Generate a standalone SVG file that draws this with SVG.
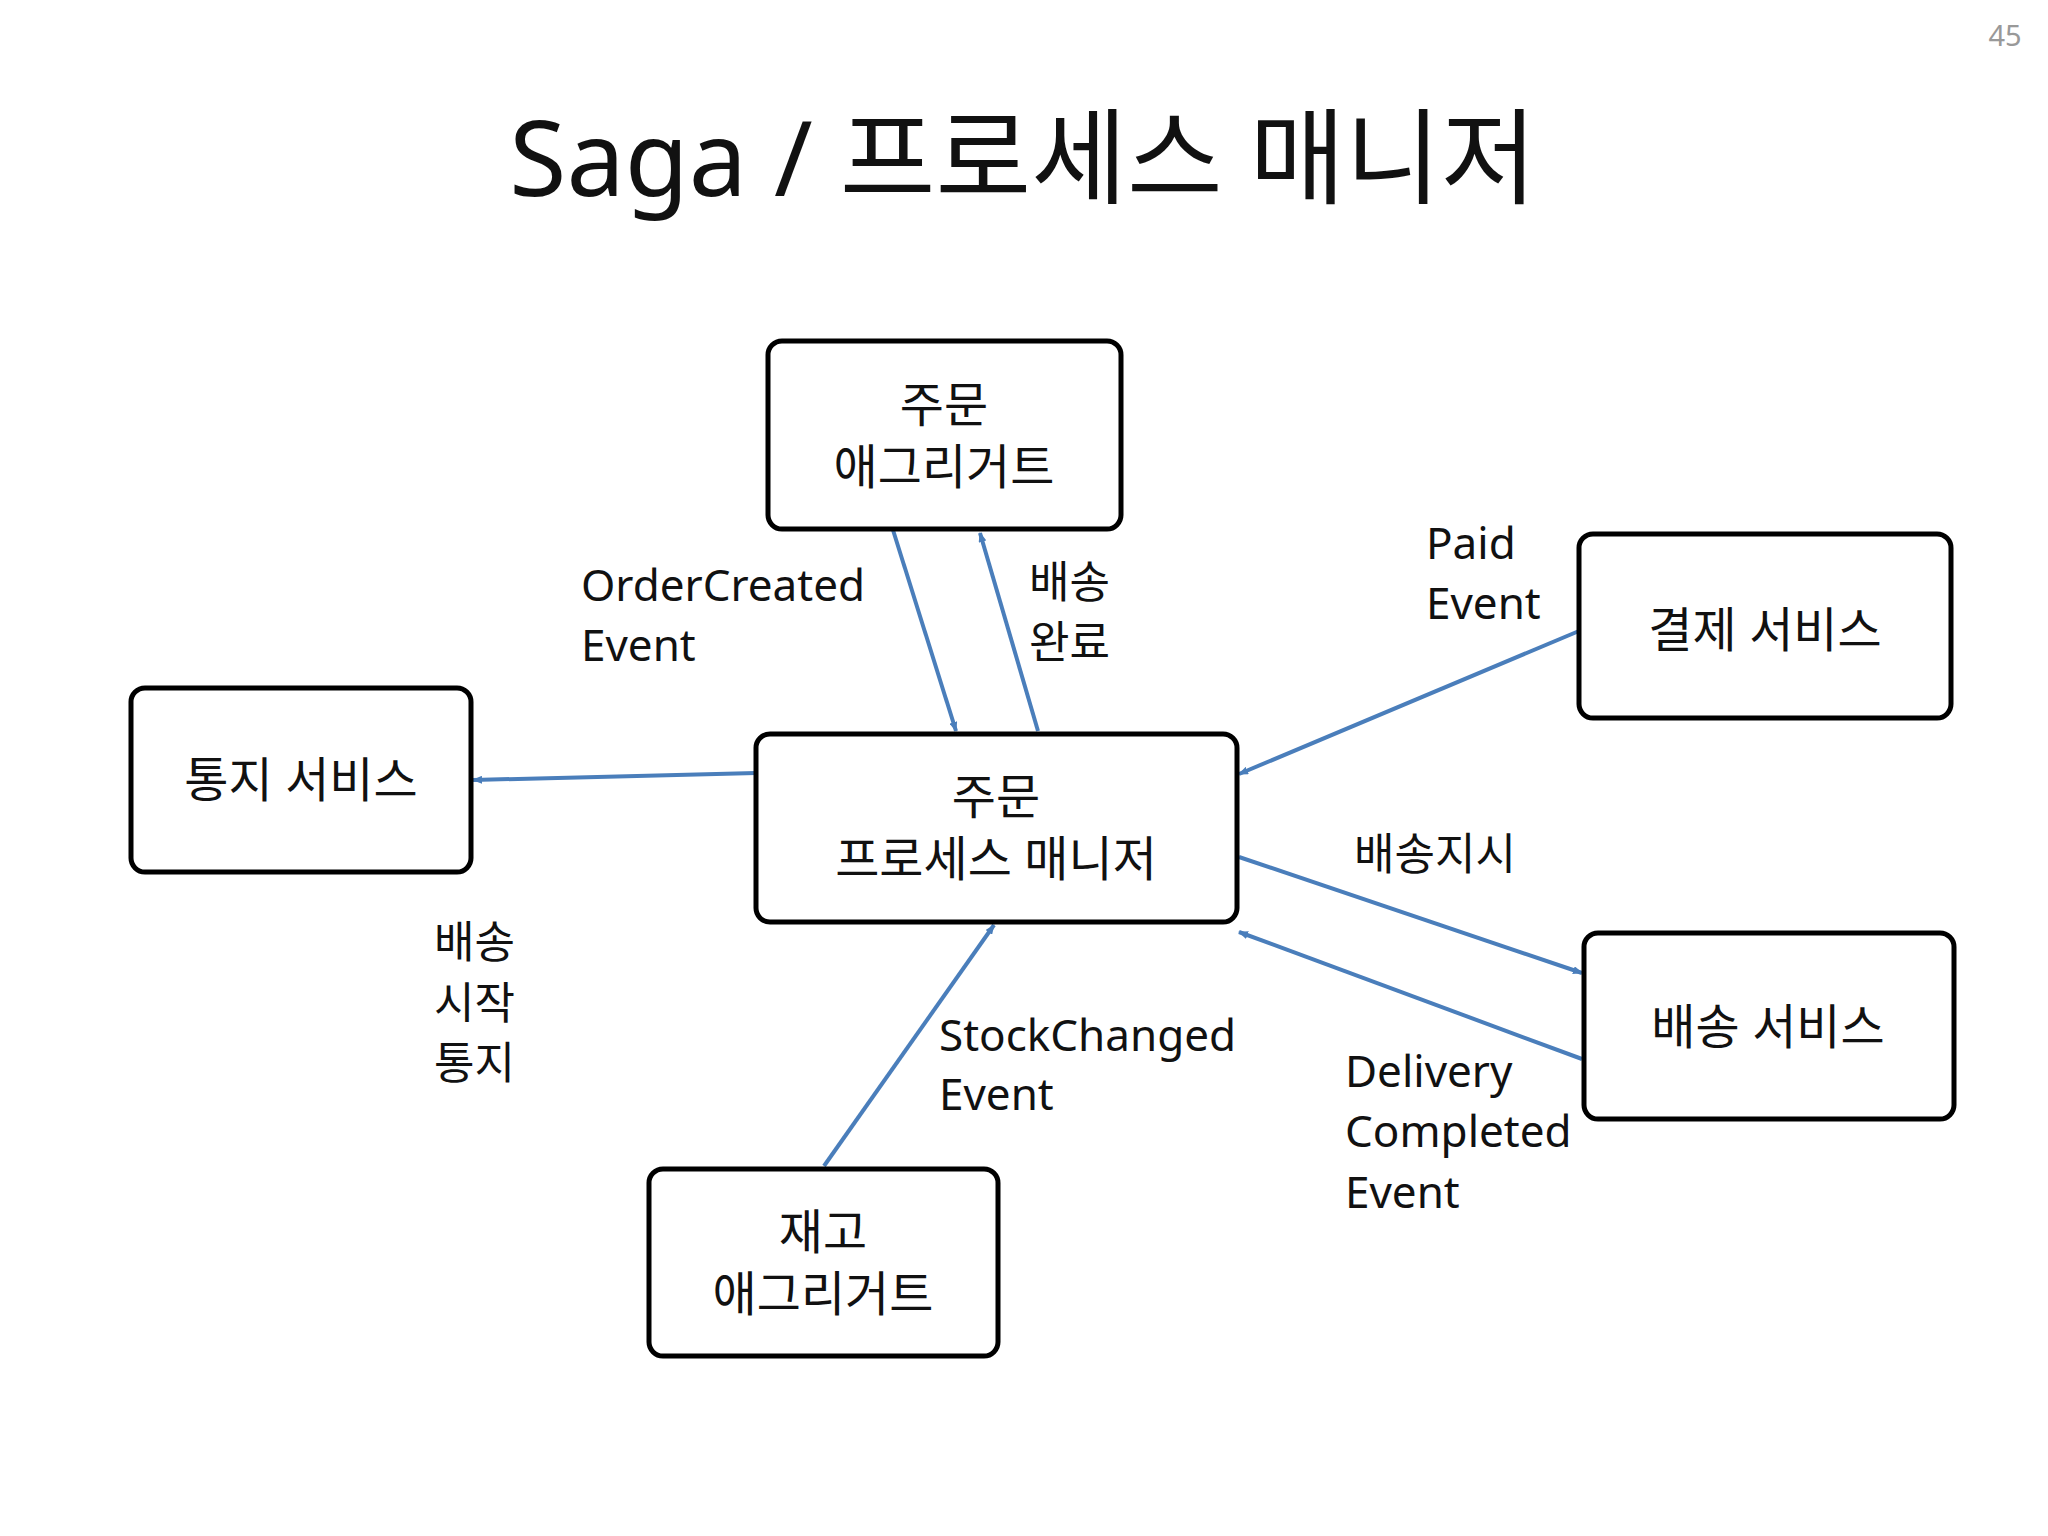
<svg xmlns="http://www.w3.org/2000/svg" width="2048" height="1536" viewBox="0 0 2048 1536">
<style>
text{font-family:"Noto Sans","Noto Sans CJK KR",sans-serif;fill:#111}
.n rect{fill:#fff;stroke:#000;stroke-width:5}
.nt{font-size:48px;text-anchor:middle}
.l{font-size:44px}
.c line{stroke:#4a7ebb;stroke-width:4;marker-end:url(#a)}
</style>
<defs><marker id="a" markerWidth="10" markerHeight="8" refX="9" refY="4" orient="auto" markerUnits="userSpaceOnUse" viewBox="0 0 10 8"><path d="M0,0L10,4L0,8z" fill="#4a7ebb"/></marker></defs>
<rect width="2048" height="1536" fill="#fff"/>
<text x="2005" y="46" font-size="29" fill="#999" style="fill:#999" text-anchor="middle">45</text>
<text x="1023" y="196" font-size="104" text-anchor="middle">Saga / 프로세스 매니저</text>
<g class="c">
<line x1="893" y1="530" x2="956" y2="731"/>
<line x1="1038" y1="731" x2="980" y2="533"/>
<line x1="756" y1="773" x2="473" y2="780"/>
<line x1="1579" y1="631" x2="1239" y2="774"/>
<line x1="1239" y1="857" x2="1582" y2="973"/>
<line x1="1582" y1="1059" x2="1239" y2="932"/>
<line x1="824" y1="1166" x2="994" y2="925"/>
</g>
<g id="order" class="n"><rect x="768" y="341" width="353" height="188" rx="14"/><text class="nt" x="944" y="422">주문</text><text class="nt" x="944" y="484">애그리거트</text></g>
<g id="notify" class="n"><rect x="131" y="688" width="340" height="184" rx="14"/><text class="nt" x="301" y="797">통지 서비스</text></g>
<g id="pm" class="n"><rect x="756" y="734" width="481" height="188" rx="14"/><text class="nt" x="996" y="814">주문</text><text class="nt" x="996" y="876">프로세스 매니저</text></g>
<g id="pay" class="n"><rect x="1579" y="534" width="372" height="184" rx="14"/><text class="nt" x="1765" y="647">결제 서비스</text></g>
<g id="ship" class="n"><rect x="1584" y="933" width="370" height="186" rx="14"/><text class="nt" x="1768" y="1044">배송 서비스</text></g>
<g id="stock" class="n"><rect x="649" y="1169" width="349" height="187" rx="14"/><text class="nt" x="823" y="1249">재고</text><text class="nt" x="823" y="1311">애그리거트</text></g>
<g class="l">
<text x="581" y="601">OrderCreated</text><text x="581" y="661">Event</text>
<text x="1029" y="598">배송</text><text x="1029" y="658">완료</text>
<text x="1426" y="559">Paid</text><text x="1426" y="619">Event</text>
<text x="1354" y="870">배송지시</text>
<text x="434" y="958">배송</text><text x="434" y="1019">시작</text><text x="434" y="1079">통지</text>
<text x="939" y="1051">StockChanged</text><text x="939" y="1110">Event</text>
<text x="1345" y="1087">Delivery</text><text x="1345" y="1147">Completed</text><text x="1345" y="1208">Event</text>
</g>
</svg>
